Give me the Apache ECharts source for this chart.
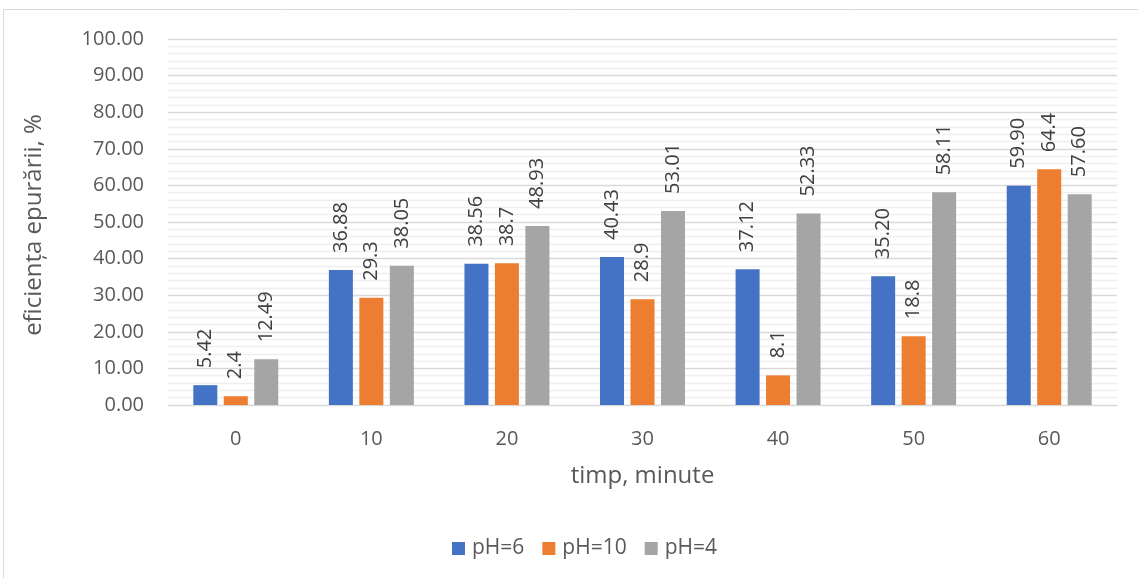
<!DOCTYPE html>
<html><head><meta charset="utf-8">
<script src="https://cdn.jsdelivr.net/npm/echarts@6/dist/echarts.min.js"></script>
<style>html,body{margin:0;padding:0;background:#fff}#c{width:1138px;height:578px}</style>
</head><body><div id="c"></div>
<script>
const categories = ['0','10','20','30','40','50','60'];
const seriesNames = ['pH=6','pH=10','pH=4'];
const ph6 = [5.42, 36.88, 38.56, 40.43, 37.12, 35.20, 59.90];
const ph10 = [2.4, 29.3, 38.7, 28.9, 8.1, 18.8, 64.4];
const ph4 = [12.49, 38.05, 48.93, 53.01, 52.33, 58.11, 57.60];
const decimals = [2, 1, 2];
const colors = ['#4472C4', '#ED7D31', '#A5A5A5'];
const font = '"Open Sans", sans-serif';

const chart = echarts.init(document.getElementById('c'));
const mk = (name, data, i) => ({
  name, type: 'bar', data,
  barWidth: 24, barGap: '27%',
  itemStyle: { color: colors[i] },
  label: {
    show: true, position: 'top', rotate: 90, align: 'left', verticalAlign: 'middle',
    distance: 17, fontSize: 20, color: '#404040', fontFamily: font,
    formatter: p => p.value.toFixed(decimals[i])
  }
});
chart.setOption({
  animation: false,
  graphic: [{ type: 'rect', shape: { x: 3.5, y: 9.5, width: 1200, height: 700 }, style: { fill: 'none', stroke: '#d9d9d9', lineWidth: 1 } }],
  grid: { left: 168, right: 21, top: 39, bottom: 173 },
  legend: {
    bottom: 14, left: 447, itemWidth: 13, itemHeight: 13, itemGap: 18,
    icon: 'rect', textStyle: { fontSize: 21, color: '#595959', fontFamily: font, padding: [0, 0, 0, 2] },
    data: seriesNames
  },
  xAxis: {
    type: 'category', data: categories,
    name: 'timp, minute', nameLocation: 'middle', nameGap: 59,
    nameTextStyle: { fontSize: 24, color: '#595959', fontFamily: font },
    axisLabel: { fontSize: 20, color: '#595959', margin: 24, fontFamily: font },
    axisLine: { lineStyle: { color: '#d9d9d9' } }, axisTick: { show: false }
  },
  yAxis: {
    type: 'value', min: 0, max: 100, interval: 10,
    name: 'eficiența epurării, %', nameLocation: 'middle', nameGap: 122,
    nameTextStyle: { fontSize: 24, color: '#595959', fontFamily: font, padding: [0, 6, 0, 0] },
    axisLabel: { fontSize: 20, color: '#595959', margin: 24, fontFamily: font, formatter: v => v.toFixed(2) },
    splitLine: { lineStyle: { color: '#d9d9d9', width: 1.3 } },
    minorTick: { show: false, splitNumber: 5 },
    minorSplitLine: { show: true, lineStyle: { color: '#efefef', width: 1.3 } }
  },
  series: [mk(seriesNames[0], ph6, 0), mk(seriesNames[1], ph10, 1), mk(seriesNames[2], ph4, 2)]
});
</script></body></html>
